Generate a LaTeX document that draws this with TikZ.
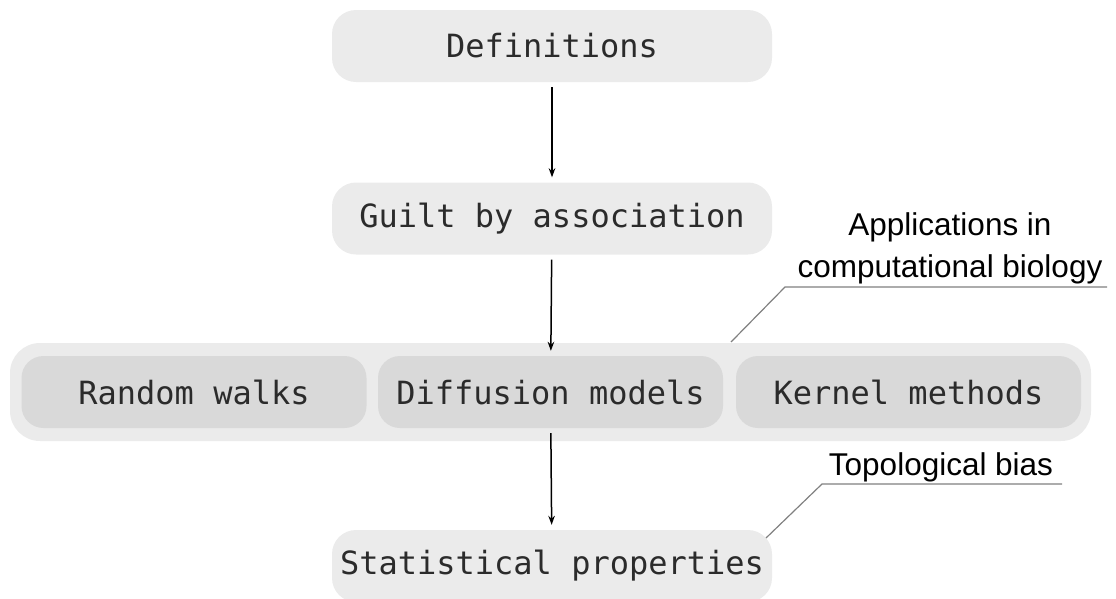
\documentclass[tikz,border=0pt]{standalone}
\usepackage{fontspec}
\setmainfont{Liberation Sans}
\newfontfamily\codefont{DejaVu Sans Mono}
\usetikzlibrary{arrows.meta}
\definecolor{boxgray}{HTML}{EBEBEB}
\definecolor{innergray}{HTML}{D9D9D9}
\definecolor{textgray}{HTML}{2B2B2B}
\definecolor{leadergray}{HTML}{808080}
\begin{document}
\begin{tikzpicture}[x=1pt,y=-1pt,
  stage/.style={fill=boxgray, rounded corners=24pt, minimum width=440pt,
    minimum height=72pt, inner sep=0pt, text=textgray,
    font=\codefont\fontsize{32}{38}\selectfont},
  method/.style={stage, fill=innergray, minimum width=345pt, rounded corners=22pt},
  group/.style={fill=boxgray, rounded corners=30pt, minimum width=1081pt,
    minimum height=98pt, inner sep=0pt},
  flow/.style={-{Stealth[length=9pt,width=6.5pt]}, line width=1.5pt,
    shorten <=5pt, shorten >=5pt},
  leader/.style={draw=leadergray, line width=1.2pt},
  note/.style={font=\fontsize{31.5}{42}\selectfont, align=center, inner sep=0pt}
]
\useasboundingbox (0,0) rectangle (1116,598);

% main pipeline
\node[stage] (def) at (552,46) {Definitions};
\node[stage] (guilt) at (552,218.5) {Guilt by association};

% family of propagation methods
\node[group] (apps) at (550.5,392) {};
\node[method] (rw) at (194,392) {Random walks};
\node[method] (diff) at (550.5,392) {Diffusion models};
\node[method] (kern) at (908.5,392) {Kernel methods};

\node[stage] (stat) at (552,566) {Statistical properties};

\draw[flow] (def) -- (guilt);
\draw[flow] (guilt) -- (diff);
\draw[flow] (diff) -- (stat);

% annotations
\coordinate (appsfoot) at (731,342);
\coordinate (appsknee) at (785,287);
\coordinate (appsend) at (1107,287);
\draw[leader] (appsfoot) -- (appsknee) -- (appsend);
\node[note, anchor=south] (appsnote) at (950,284) {Applications in\\computational biology};

\coordinate (statfoot) at (766,538);
\coordinate (statknee) at (822,484);
\coordinate (statend) at (1062,484);
\draw[leader] (statfoot) -- (statknee) -- (statend);
\node[note, anchor=south] (statnote) at (941,482) {Topological bias};
\end{tikzpicture}
\end{document}
